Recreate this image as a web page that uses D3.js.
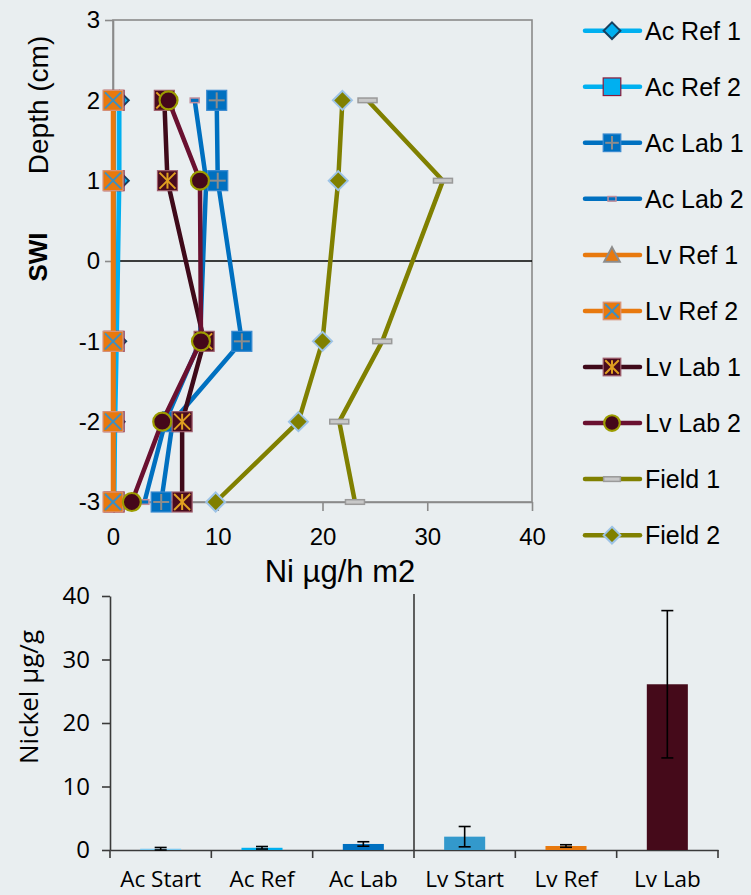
<!DOCTYPE html>
<html>
<head>
<meta charset="utf-8">
<script src="https://cdn.jsdelivr.net/npm/d3@7/dist/d3.min.js"></script>
<style>
    body { margin: 0; background: #e9eef0; }
    svg { display: block; }
    .profile text { font-family: "Liberation Sans", Arial, sans-serif; fill: #000; }
    .bars text { font-family: "Open Sans", sans-serif; fill: #000; }
</style>
</head>
<body>
<svg id="chart"></svg>
<script>
// depth of each sample (cm), shared by every profile series
let depths = [2, 1, -1, -2, -3]

let seriesNames = ["Ac Ref 1", "Ac Ref 2", "Ac Lab 1", "Ac Lab 2", "Lv Ref 1",
    "Lv Ref 2", "Lv Lab 1", "Lv Lab 2", "Field 1", "Field 2"]

// Ni flux, µg/h m2, one value per depth
let acRef1 = [0.6, 0.6, 0.35, 0.2, 0.1]
let acRef2 = [0.1, 0.1, 0.1, 0.1, 0.1]
let acLab1 = [9.9, 10.0, 12.3, 5.7, 4.6]
let acLab2 = [7.8, 8.9, 8.3, 5.0, 3.0]
let lvRef1 = [0.05, 0.05, 0.05, 0.05, 0.05]
let lvRef2 = [0, 0, 0, 0, 0]
let lvLab1 = [4.9, 5.2, 8.7, 6.6, 6.6]
let lvLab2 = [5.3, 8.3, 8.4, 4.7, 1.8]
let field1 = [24.3, 31.5, 25.7, 21.6, 23.1]
let field2 = [21.9, 21.5, 20.0, 17.7, 9.8]

let depthTicks = [-3, -2, -1, 0, 1, 2, 3]
let fluxTicks = [0, 10, 20, 30, 40]

// bottom chart: nickel content in sediment
let sites = ["Ac Start", "Ac Ref", "Ac Lab", "Lv Start", "Lv Ref", "Lv Lab"]
let nickel = [0.2, 0.35, 0.95, 2.1, 0.63, 26.1]
let nickelErr = [0.2, 0.2, 0.35, 1.6, 0.2, 11.6]
let nickelTicks = [0, 10, 20, 30, 40]

let seriesValues = [acRef1, acRef2, acLab1, acLab2, lvRef1, lvRef2, lvLab1, lvLab2, field1, field2]

// look of each series (kept apart from the values)
let styles = [
    { color: "#00b0f0", marker: "diamond", fill: "#00b0f0", stroke: "#17405f" },
    { color: "#00b0f0", marker: "square", fill: "#00b0f0", stroke: "#8b1a3a" },
    { color: "#0070c0", marker: "plus", fill: "#0070c0", stroke: "#3a8ad0", sym: "#8c8c8c" },
    { color: "#0070c0", marker: "tick", fill: "#0070c0", stroke: "#c08e9c" },
    { color: "#e8790e", marker: "triangle", fill: "#e8790e", stroke: "#8c8c8c" },
    { color: "#e8790e", marker: "cross", fill: "#e8790e", stroke: "#d9967e", sym: "#3b8fc4" },
    { color: "#3f0a1a", marker: "star", fill: "#4a0b1d", stroke: "#a0606e", sym: "#e0a020" },
    { color: "#6a1030", marker: "circle", fill: "#45081a", stroke: "#9c9c00" },
    { color: "#808000", marker: "dash", fill: "#c8c8c8", stroke: "#9a9a9a" },
    { color: "#808000", marker: "diamond", fill: "#808000", stroke: "#9dc3e6" }
]
let barColors = ["#7cc8ee", "#00b0f0", "#0070c0", "#3399cc", "#e8790e", "#450a1a"]

let W = 751, H = 895

let svg = d3.select("#chart")
    .attr("width", W)
    .attr("height", H)

//draws one marker centred on the (already translated) group, k scales it down for the legend
function drawMarker(g, st, k) {
    let h = 10 * k
    if (st.marker == "diamond") {
        let d = 9.5 * k
        g.append("path")
            .attr("d", `M0,${-d}L${d},0L0,${d}L${-d},0Z`)
            .attr("fill", st.fill).attr("stroke", st.stroke).attr("stroke-width", 2)
    } else if (st.marker == "circle") {
        g.append("circle")
            .attr("r", h - 1)
            .attr("fill", st.fill).attr("stroke", st.stroke).attr("stroke-width", 2.2)
    } else if (st.marker == "triangle") {
        g.append("path")
            .attr("d", `M0,${-h + 1}L${h - 1},${h - 2}L${-h + 1},${h - 2}Z`)
            .attr("fill", st.fill).attr("stroke", st.stroke).attr("stroke-width", 2)
    } else if (st.marker == "tick") {
        g.append("rect")
            .attr("x", -4.5 * k).attr("y", -2.3).attr("width", 9 * k).attr("height", 4.6)
            .attr("fill", st.fill).attr("stroke", st.stroke).attr("stroke-width", 1.5)
    } else if (st.marker == "dash") {
        g.append("rect")
            .attr("x", -9.5 * k).attr("y", -2.3).attr("width", 19 * k).attr("height", 4.6)
            .attr("fill", st.fill).attr("stroke", st.stroke).attr("stroke-width", 1.5)
    } else {
        g.append("rect")
            .attr("x", -h).attr("y", -h).attr("width", 2 * h).attr("height", 2 * h)
            .attr("fill", st.fill).attr("stroke", st.stroke).attr("stroke-width", 1.2)
        let s = h - 2
        let lines = []
        if (st.marker == "plus") lines = [[-s, 0, s, 0], [0, -s, 0, s]]
        if (st.marker == "cross") lines = [[-s, -s, s, s], [-s, s, s, -s]]
        if (st.marker == "star") lines = [[-s, -s, s, s], [-s, s, s, -s], [0, -s, 0, s]]
        lines.forEach(l => {
            g.append("line")
                .attr("x1", l[0]).attr("y1", l[1]).attr("x2", l[2]).attr("y2", l[3])
                .attr("stroke", st.sym).attr("stroke-width", 2)
        })
    }
}

// ---------- top: depth profile ----------
let profile = svg.append("g").attr("class", "profile")

let xScale = d3.scaleLinear().domain([0, 40]).range([113, 532])
let yScale = d3.scaleLinear().domain([-3, 3]).range([502, 20])

//plot frame
profile.append("rect")
    .attr("x", xScale(0)).attr("y", yScale(3))
    .attr("width", xScale(40) - xScale(0)).attr("height", yScale(-3) - yScale(3))
    .attr("fill", "none").attr("stroke", "#8a8a8a").attr("stroke-width", 1.6)

//plain hyphen minus and no decimals, like the original
let yAxis = d3.axisLeft(yScale)
    .tickValues(depthTicks)
    .tickFormat(d => String(d))
    .tickSize(8)
    .tickSizeOuter(0)
    .tickPadding(5)

profile.append("g")
    .attr("transform", "translate(" + xScale(0) + ",0)")
    .call(yAxis)
    .call(g => g.select(".domain").attr("stroke", "#8a8a8a").attr("stroke-width", 1.6))
    .call(g => g.selectAll(".tick line").attr("stroke", "#8a8a8a").attr("stroke-width", 1.6))
    .call(g => g.selectAll(".tick text").attr("font-size", 24).attr("fill", "#000")
        .attr("font-family", "Liberation Sans, Arial, sans-serif"))

let xAxis = d3.axisBottom(xScale)
    .tickValues(fluxTicks)
    .tickFormat(d => String(d))
    .tickSize(9)
    .tickSizeOuter(0)
    .tickPadding(17)

profile.append("g")
    .attr("transform", "translate(0," + yScale(-3) + ")")
    .call(xAxis)
    .call(g => g.select(".domain").attr("stroke", "#8a8a8a").attr("stroke-width", 1.6))
    .call(g => g.selectAll(".tick line").attr("stroke", "#8a8a8a").attr("stroke-width", 1.6))
    .call(g => g.selectAll(".tick text").attr("font-size", 24).attr("fill", "#000")
        .attr("font-family", "Liberation Sans, Arial, sans-serif"))

//sediment-water interface
profile.append("line")
    .attr("x1", xScale(0)).attr("x2", xScale(40))
    .attr("y1", yScale(0)).attr("y2", yScale(0))
    .attr("stroke", "#000").attr("stroke-width", 1.6)

let line = d3.line()
    .x(d => xScale(d.x))
    .y(d => yScale(d.y))

//Ac Lab 2 sits underneath Ac Lab 1 in the original
let drawOrder = [0, 1, 3, 2, 4, 5, 6, 7, 8, 9]

drawOrder.forEach(function (i) {
    let st = styles[i]
    let pts = seriesValues[i].map((v, j) => ({ x: v, y: depths[j] }))
    let g = profile.append("g")
    g.append("path")
        .datum(pts)
        .attr("d", line)
        .attr("fill", "none")
        .attr("stroke", st.color)
        .attr("stroke-width", 4.5)
        .attr("stroke-linejoin", "round")
        .attr("stroke-linecap", "round")
    g.selectAll("g.mk")
        .data(pts)
        .enter()
        .append("g")
        .attr("class", "mk")
        .attr("transform", d => "translate(" + xScale(d.x) + "," + yScale(d.y) + ")")
        .each(function () { drawMarker(d3.select(this), st, 1) })
})

profile.append("text")
    .attr("transform", "translate(48,105) rotate(-90)")
    .attr("text-anchor", "middle")
    .attr("font-size", 28)
    .text("Depth (cm)")

profile.append("text")
    .attr("transform", "translate(47,257) rotate(-90)")
    .attr("text-anchor", "middle")
    .attr("font-size", 26)
    .attr("font-weight", "bold")
    .text("SWI")

profile.append("text")
    .attr("x", 340).attr("y", 582)
    .attr("text-anchor", "middle")
    .attr("font-size", 31)
    .text("Ni µg/h m2")

//legend
let legend = profile.selectAll("g.legend")
    .data(seriesNames)
    .enter()
    .append("g")
    .attr("class", "legend")
    .attr("transform", (d, i) => "translate(0," + (30.7 + i * 56.05) + ")")

legend.append("line")
    .attr("x1", 585).attr("x2", 640)
    .attr("stroke", (d, i) => styles[i].color)
    .attr("stroke-width", 4.5)
    .attr("stroke-linecap", "round")

legend.append("g")
    .attr("transform", "translate(612,0)")
    .each(function (d, i) { drawMarker(d3.select(this), styles[i], 0.88) })

legend.append("text")
    .attr("x", 645).attr("y", 9)
    .attr("font-size", 25)
    .text(d => d)

// ---------- bottom: nickel in sediment ----------
let bottom = svg.append("g").attr("class", "bars")

let bx = d3.scaleBand()
    .domain(sites)
    .range([110, 718])
    .paddingInner(0.595)
    .paddingOuter(0.2975)

let by = d3.scaleLinear().domain([0, 40]).range([850, 596])

let byAxis = d3.axisLeft(by)
    .tickValues(nickelTicks)
    .tickSize(8)
    .tickSizeOuter(0)
    .tickPadding(12)

bottom.append("g")
    .attr("transform", "translate(110,0)")
    .call(byAxis)
    .call(g => g.select(".domain").attr("stroke", "#3a3a3a").attr("stroke-width", 1.6))
    .call(g => g.selectAll(".tick line").attr("stroke", "#3a3a3a").attr("stroke-width", 1.6))
    .call(g => g.selectAll(".tick text").attr("font-size", 24).attr("fill", "#000")
        .attr("font-family", "Open Sans, sans-serif"))

let bxAxis = d3.axisBottom(bx)
    .tickSize(0)
    .tickPadding(21)

bottom.append("g")
    .attr("transform", "translate(0,850)")
    .call(bxAxis)
    .call(g => g.select(".domain").attr("stroke", "#3a3a3a").attr("stroke-width", 1.6))
    .call(g => g.selectAll(".tick text").attr("font-size", 22.5).attr("fill", "#000")
        .attr("font-family", "Open Sans, sans-serif"))

//category boundary ticks
let edges = sites.map(d => bx(d) - bx.step() * bx.paddingInner() / 2)
edges.push(bx(sites[sites.length - 1]) + bx.bandwidth() + bx.step() * bx.paddingInner() / 2)

bottom.selectAll("line.edge")
    .data(edges)
    .enter()
    .append("line")
    .attr("class", "edge")
    .attr("x1", d => d).attr("x2", d => d)
    .attr("y1", 850).attr("y2", 858)
    .attr("stroke", "#3a3a3a").attr("stroke-width", 1.6)

//separator between the two lakes
bottom.append("line")
    .attr("x1", edges[3]).attr("x2", edges[3])
    .attr("y1", by(40) - 2).attr("y2", 850)
    .attr("stroke", "#3a3a3a").attr("stroke-width", 1.6)

bottom.selectAll("rect.bar")
    .data(sites)
    .enter()
    .append("rect")
    .attr("class", "bar")
    .attr("x", d => bx(d))
    .attr("width", bx.bandwidth())
    .attr("y", (d, i) => by(nickel[i]))
    .attr("height", (d, i) => 850 - by(nickel[i]))
    .attr("fill", (d, i) => barColors[i])

//error bars
let err = bottom.selectAll("g.err")
    .data(sites)
    .enter()
    .append("g")
    .attr("class", "err")
    .attr("transform", d => "translate(" + (bx(d) + bx.bandwidth() / 2) + ",0)")

err.append("line")
    .attr("y1", (d, i) => by(nickel[i] + nickelErr[i]))
    .attr("y2", (d, i) => by(nickel[i] - nickelErr[i]))
    .attr("stroke", "#000").attr("stroke-width", 1.6)

err.append("line")
    .attr("x1", -6).attr("x2", 6)
    .attr("y1", (d, i) => by(nickel[i] + nickelErr[i]))
    .attr("y2", (d, i) => by(nickel[i] + nickelErr[i]))
    .attr("stroke", "#000").attr("stroke-width", 1.6)

err.append("line")
    .attr("x1", -6).attr("x2", 6)
    .attr("y1", (d, i) => by(nickel[i] - nickelErr[i]))
    .attr("y2", (d, i) => by(nickel[i] - nickelErr[i]))
    .attr("stroke", "#000").attr("stroke-width", 1.6)

bottom.append("text")
    .attr("transform", "translate(38,697) rotate(-90)")
    .attr("text-anchor", "middle")
    .attr("font-size", 26)
    .text("Nickel µg/g")
</script>
</body>
</html>
